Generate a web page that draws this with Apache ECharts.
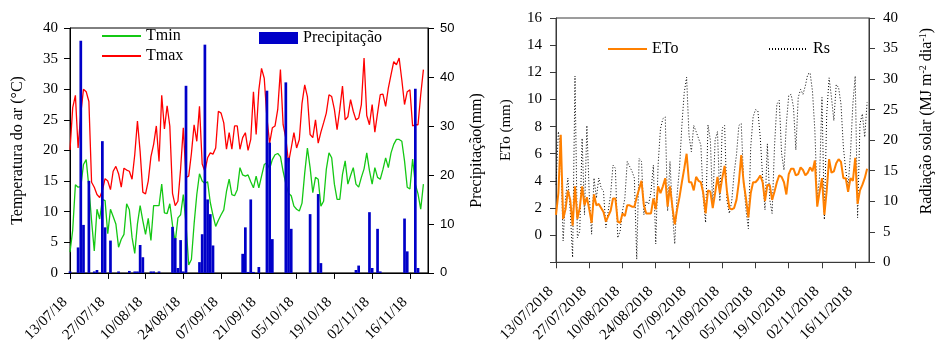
<!DOCTYPE html>
<html>
<head>
<meta charset="utf-8">
<script src="https://cdn.jsdelivr.net/npm/echarts@6/dist/echarts.min.js"></script>
<style>
  html, body { margin: 0; background: #fff; }
  #chart { width: 936px; height: 345px; }
</style>
</head>
<body>
<div id="chart"></div>
<script>
// daily series, day 0 = 13/07/2018
const START = Date.UTC(2018, 6, 13);
const tickDays = [0, 14, 28, 42, 56, 70, 84, 98, 112, 126];

const tmax = [
  20.1, 27, 29, 20.4, 26, 30, 29.6, 28, 14.8, 14,
  12.8, 12.3, 13.5, 15.4, 15, 13.6, 16.6, 17.4, 16.2, 14,
  17.1, 16.8, 16.6, 15.3, 19.3, 24.8, 19.8, 13.2, 12.9, 15,
  19, 21, 24, 18.2, 29, 23.5, 27.3, 24, 13, 11,
  11.7, 17, 23.7, 15.6, 15.8, 19.5, 24.2, 21.5, 27.2, 17.8,
  16.6, 18.8, 19.6, 19.4, 20.4, 26.4, 26.1, 24.5, 20.2, 22.9,
  20.2, 24, 24, 20.2, 22.1, 22.9, 20, 21.8, 29.6, 22.6,
  29.9, 33.4, 31.8, 25.3, 21.2, 23.7, 24, 26.7, 33.2, 24.2,
  22, 18, 20.4, 22.9, 20.4, 21.8, 27.7, 30.7, 28.8, 22.6,
  22.1, 25, 21.2, 23, 24.5, 26.1, 29.1, 28.8, 26.7, 23.4,
  26.7, 30.5, 25, 25.5, 28.3, 26.4, 25, 25.3, 27.5, 35.1,
  25.7, 24.2, 27.5, 23, 26.1, 29.1, 29.2, 27.2, 30.2, 32.4,
  34.5, 34, 35.1, 31.5, 27.5, 29.6, 29.9, 24, 24.2, 24.2,
  29.1, 33.2
];
const tmin = [
  3.4, 7, 14.4, 14, 14.1, 17.7, 18.5, 14, 8.5, 3.6,
  10.4, 8.8, 12, 11.8, 6.4, 10.4, 9.2, 8, 4.2, 5.5,
  6.3, 11.3, 10.3, 5.8, 3.2, 8, 11, 8.5, 6.3, 8.9,
  5.3, 11, 11, 11, 14.5, 9.8, 9.7, 11.3, 7.8, 5,
  9, 9.5, 12.8, 8, 1.3, 2.2, 8, 12.8, 16.2, 15,
  14.6, 14.9, 11.5, 9.4, 7.6, 8.6, 9.5, 10.3, 13.3, 15.3,
  12.8, 12.6, 13.6, 17.2, 16, 15.8, 16, 14.9, 13.9, 15.8,
  13.9, 15.8, 17.7, 18, 17, 18.5, 19.3, 19.5, 19, 16.6,
  14.6, 13, 12.6, 10.9, 10.4, 10.1, 11.4, 16.3, 20.4, 17.2,
  13.1, 15.6, 15.3, 10.9, 11.7, 16.9, 19.6, 18.8, 14.5, 12,
  12, 16.1, 18.3, 14.5, 15.9, 17.2, 14.5, 14, 15.6, 17,
  19.6, 16.7, 14.5, 17.2, 15.6, 15.3, 16.9, 18.8, 17.2, 19.6,
  21, 21.8, 21.8, 21.5, 18.3, 14, 13.7, 18.6, 14.5, 12.9,
  10.4, 14.5
];
const precip = [
  0.3, 0, 0, 5.2, 47.4, 9.8, 0, 18.8, 0, 0.3,
  0.6, 0, 26.9, 9.3, 0, 6.6, 0, 0, 0.3, 0,
  0, 0, 0.4, 0, 0.3, 0.3, 5.7, 3.2, 0, 0,
  0.3, 0.3, 0, 0.3, 0, 0, 0, 0, 9.4, 7.1,
  1, 6.7, 0.3, 38.2, 0, 0, 0, 0, 2.2, 7.9,
  46.6, 15, 12, 5.6, 0, 0, 0, 0, 0, 0,
  0, 0, 0, 0, 3.9, 9.3, 0.2, 15, 0.2, 0,
  1.2, 0, 0, 37.2, 26.6, 6.9, 0, 0, 0, 0,
  38.9, 23.5, 9, 0, 0, 0, 0, 0, 0, 12,
  0, 0, 16.1, 2, 0, 0, 0, 0, 0, 0,
  0, 0, 0, 0, 0, 0, 0.6, 1.5, 0, 0,
  0, 12.4, 1, 0, 9, 0.3, 0, 0, 0, 0,
  0, 0, 0, 0, 11.1, 4.4, 0, 0, 37.6, 1,
  0, 0
];
const eto = [
  1.5, 3.1, 7.4, 1.2, 1.9, 3.3, 2.6, 0.7, 3.6, 1.2,
  2, 3.6, 2.2, 2.8, 1.9, 0.9, 3, 2.2, 2.3, 2,
  1.7, 1, 1.4, 1.8, 2.7, 2.7, 1, 0.9, 1.6, 1.4,
  2.2, 2.2, 2.1, 2.1, 2.8, 3.4, 4, 2.2, 1.6, 1.6,
  1.6, 2.7, 1.9, 3.6, 3.1, 3.6, 4.2, 2.1, 3.6, 2.1,
  0.8, 1.9, 2.8, 3.9, 4.9, 6, 3.9, 3.9, 3.3, 4.3,
  4, 3.9, 3.1, 1.6, 3.3, 3.2, 2, 3.1, 4.3, 3.1,
  4.2, 5.1, 3.2, 2, 1.9, 2, 2.6, 3.9, 5.9, 3.9,
  2.7, 1.3, 3.1, 3.9, 3.9, 4.1, 4.4, 3.9, 2.5, 3.7,
  3.7, 2.6, 3.2, 3.9, 4.4, 4.3, 3.9, 3, 4.5, 4.9,
  4.9, 4.4, 4.5, 5, 4.8, 4.4, 4.6, 5, 4.7, 5.5,
  2.1, 3.2, 4.2, 1.5, 3.3, 5.6, 4.6, 4.7, 5.3, 5.6,
  5.4, 4.2, 4.2, 3.2, 4.2, 4, 5.7, 2.3, 3.3, 3.7,
  4.2, 4.9
];
const rs = [
  12.7, 21.4, 18.6, 3.5, 10.5, 13.8, 8.4, 0.8, 30.5, 4,
  5.1, 20.3, 7.8, 22.4, 11.1, 4.6, 13.8, 10.5, 13.8, 12.2,
  11.6, 5.7, 8.4, 11.1, 15.9, 15.4, 4, 5.1, 8.4, 10.5,
  16.5, 15.7, 14.9, 13.8, 0.5, 17, 16.5, 7.8, 10, 9.5,
  11.6, 15.9, 3, 16, 21.9, 23.5, 23.8, 8.4, 16.5, 8.4,
  3, 11.1, 15.4, 22.4, 27.8, 30.3, 20.8, 18.1, 22.4, 21.4,
  20.3, 19.2, 10.5, 6.5, 22.5, 20, 9, 20, 21.4, 10,
  22, 22.4, 10, 8, 10, 14.6, 17.6, 22.4, 22.7, 13.5,
  8.6, 5.5, 18.9, 23.8, 25, 24.8, 20.5, 14, 8.6, 19.4,
  10.3, 8, 18.9, 25.9, 26.5, 17.8, 15.1, 22.7, 27.3, 27.5,
  25.4, 18.4, 27, 28.3, 27.5, 28.9, 30.8, 31, 28, 21.6,
  10.3, 14, 27, 7, 24.3, 30.2, 27, 23.2, 29.1, 28.6,
  25.9, 18.9, 15.1, 12.4, 17.8, 25.9, 30.5, 7.3, 22.7, 24.3,
  20.5, 26.2
];

const SERIF = "'Liberation Serif', 'Times New Roman', serif";
const SANS = "'Liberation Sans', Arial, sans-serif";
const INK = '#000';
const GREY = '#3a3a3a';

function dayLabel(v, fullYear) {
  const d = new Date(START + Math.round(v) * 86400000);
  const dd = String(d.getUTCDate()).padStart(2, '0');
  const mm = String(d.getUTCMonth() + 1).padStart(2, '0');
  const yy = fullYear ? String(d.getUTCFullYear()) : String(d.getUTCFullYear()).slice(2);
  return dd + '/' + mm + '/' + yy;
}

const pts = (arr) => arr.map((v, i) => [i, v]);

function xAxis(grid, max, color, full) {
  return {
    gridIndex: grid, type: 'value', min: 0, max: max,
    axisLine: { show: true, onZero: false, lineStyle: { color: color } },
    axisTick: { show: true, customValues: tickDays, length: 6, lineStyle: { color: color } },
    axisLabel: {
      customValues: tickDays, rotate: 45, margin: 22, padding: [0, 7, 0, 0],
      fontFamily: SERIF, fontSize: 15, color: INK,
      formatter: (v) => dayLabel(v, full),
    },
    splitLine: { show: false },
  };
}

function yAxis(grid, pos, min, max, step, color, font, extra) {
  return Object.assign({
    gridIndex: grid, type: 'value', position: pos, min: min, max: max, interval: step,
    axisLine: { show: true, lineStyle: { color: color } },
    axisTick: { show: true, length: 6, lineStyle: { color: color } },
    axisLabel: { fontFamily: font, fontSize: font === SANS ? 13 : 15, color: INK, margin: 12 },
    splitLine: { show: false },
    nameLocation: 'middle', nameRotate: 90,
  }, extra);
}

// line legends: show only the stroke, hide the marker circle
const lineLegend = (names, left, top, extra) => Object.assign({
  data: names, left: left, top: top,
  itemWidth: 39, itemHeight: 14,
  itemStyle: { opacity: 0 },
  textStyle: { fontFamily: SERIF, fontSize: 16, color: INK },
}, extra);

const chart = echarts.init(document.getElementById('chart'), null, { renderer: 'canvas' });

chart.setOption({
  animation: false,
  backgroundColor: '#fff',
  grid: [
    { left: 70, right: 508, top: 28, bottom: 71, show: true, borderColor: INK, borderWidth: 1 },
    { left: 556, right: 63, top: 18, bottom: 80, show: true, borderColor: GREY, borderWidth: 1 },
  ],
  legend: [
    lineLegend(['Tmin', 'Tmax'], 96, 23, { orient: 'vertical', itemGap: 4 }),
    {
      data: ['Precipitação'], left: 254, top: 25,
      itemWidth: 39, itemHeight: 12, icon: 'rect',
      textStyle: { fontFamily: SERIF, fontSize: 16, color: INK },
    },
    lineLegend(['ETo'], 602, 36),
    lineLegend(['Rs'], 763, 36),
  ],
  xAxis: [
    xAxis(0, 132.7, INK, false),
    xAxis(1, 131.8, GREY, true),
  ],
  yAxis: [
    yAxis(0, 'left', 0, 40, 5, INK, SERIF, {
      name: 'Temperatura do ar (°C)', nameGap: 44,
      nameTextStyle: { fontFamily: SERIF, fontSize: 16, color: INK },
    }),
    yAxis(0, 'right', 0, 50, 10, INK, SANS, {
      name: 'Precipitação(mm)', nameGap: 41,
      nameTextStyle: { fontFamily: SERIF, fontSize: 16, color: INK },
    }),
    yAxis(1, 'left', -2, 16, 2, GREY, SERIF, {
      name: 'ETo (mm)', nameGap: 42,
      axisLabel: {
        fontFamily: SERIF, fontSize: 15, color: INK, margin: 14,
        formatter: (v) => (v < 0 ? '' : String(v)),
      },
      nameTextStyle: { fontFamily: SERIF, fontSize: 15, color: INK, padding: [0, 0, 0, 20] },
    }),
    yAxis(1, 'right', 0, 40, 5, GREY, SERIF, {
      name: '{a|Radiação solar (MJ m}{s|-2}{a| dia}{s|-1}{a|)}', nameGap: 49,
      axisLabel: { fontFamily: SERIF, fontSize: 15, color: INK, margin: 14 },
      nameTextStyle: {
        padding: [0, 0, 0, 38],
        rich: {
          a: { fontFamily: SERIF, fontSize: 16, color: INK, lineHeight: 18 },
          s: { fontFamily: SERIF, fontSize: 10, color: INK, lineHeight: 18, verticalAlign: 'top' },
        },
      },
    }),
  ],
  series: [
    {
      name: 'Tmin', type: 'line', xAxisIndex: 0, yAxisIndex: 0, data: pts(tmin),
      symbol: 'none', lineStyle: { color: '#14c814', width: 1.3 }, itemStyle: { color: '#14c814' }, z: 2,
    },
    {
      name: 'Tmax', type: 'line', xAxisIndex: 0, yAxisIndex: 0, data: pts(tmax),
      symbol: 'none', lineStyle: { color: '#ff0000', width: 1.3 }, itemStyle: { color: '#ff0000' }, z: 2,
    },
    {
      name: 'Precipitação', type: 'bar', xAxisIndex: 0, yAxisIndex: 1, data: pts(precip),
      barWidth: 2.7, itemStyle: { color: '#0000c8' }, z: 3,
    },
    {
      name: 'Rs', type: 'line', xAxisIndex: 1, yAxisIndex: 3, data: pts(rs),
      symbol: 'none', lineStyle: { color: '#000', width: 1, type: [1, 2] }, itemStyle: { color: '#000' }, z: 2,
    },
    {
      name: 'ETo', type: 'line', xAxisIndex: 1, yAxisIndex: 2, data: pts(eto),
      symbol: 'none', lineStyle: { color: '#ff8000', width: 2 }, itemStyle: { color: '#ff8000' }, z: 3,
    },
  ],
});
</script>
</body>
</html>
